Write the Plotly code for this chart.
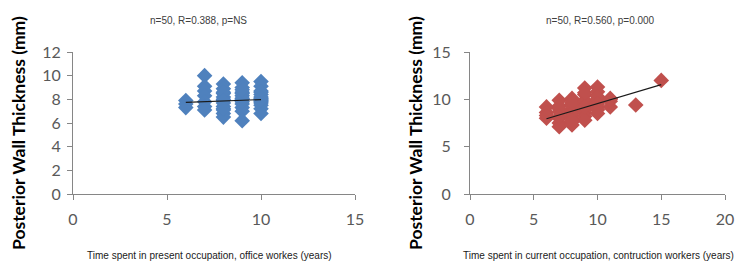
import plotly.graph_objects as go

# ---- Data ----
office_x = [6]*3 + [7]*7 + [8]*13 + [9]*13 + [10]*14
office_y = [7.9, 7.6, 7.3,
            10.0, 9.1, 8.7, 8.3, 7.8, 7.4, 7.1,
            9.3, 8.9, 8.5, 8.2, 8.0, 7.7, 7.4, 7.1, 6.8, 6.5, 8.6, 7.9, 7.2,
            9.4, 9.0, 8.6, 8.3, 8.0, 7.6, 7.3, 7.0, 6.2, 8.5, 7.8, 8.1, 8.8,
            9.5, 9.1, 8.7, 8.4, 8.1, 7.8, 7.5, 7.2, 6.8, 8.6, 8.2, 7.7, 7.9, 8.0]
office_trend_x = [6, 10]
office_trend_y = [7.75, 7.98]

constr_x = [6]*4 + [7]*8 + [8]*11 + [9]*11 + [10]*9 + [11]*4 + [13] + [15] + [8]
constr_y = [9.2, 8.0, 8.6, 8.3,
            9.9, 9.0, 8.7, 8.0, 7.5, 7.1, 9.3, 8.2,
            10.1, 9.5, 8.9, 8.7, 8.3, 8.0, 7.6, 7.3, 9.3, 8.5, 9.7,
            11.2, 10.5, 9.9, 9.5, 8.9, 8.6, 8.2, 7.8, 9.8, 10.7, 9.2,
            11.3, 10.8, 10.3, 9.75, 9.2, 8.5, 10.0, 9.5, 8.9,
            10.1, 9.2, 9.8, 10.0,
            9.4,
            12.0,
            7.8]
constr_trend_x = [6, 15]
constr_trend_y = [7.95, 11.55]

titles = ["n=50, R=0.388, p=NS", "n=50, R=0.560, p=0.000"]
x_titles = ["Time spent in present occupation, office workes (years)",
            "Time spent in current occupation, contruction workers (years)"]
y_title = "Posterior Wall Thickness (mm)"

W, H = 737, 262
fig = go.Figure()

fig.add_trace(go.Scatter(x=office_x, y=office_y, mode="markers",
                         marker=dict(symbol="diamond", size=12, color="#4F81BD"),
                         xaxis="x", yaxis="y", showlegend=False))
fig.add_trace(go.Scatter(x=office_trend_x, y=office_trend_y, mode="lines",
                         line=dict(color="#1a1a1a", width=1.2),
                         xaxis="x", yaxis="y", showlegend=False))
fig.add_trace(go.Scatter(x=constr_x, y=constr_y, mode="markers",
                         marker=dict(symbol="diamond", size=12, color="#C0504D"),
                         xaxis="x2", yaxis="y2", showlegend=False))
fig.add_trace(go.Scatter(x=constr_trend_x, y=constr_trend_y, mode="lines",
                         line=dict(color="#1a1a1a", width=1.2),
                         xaxis="x2", yaxis="y2", showlegend=False))

tickfont = dict(family="Lato", size=16, color="#595959")
axcommon = dict(showgrid=False, zeroline=False, showline=True, linecolor="#868686",
                linewidth=1, ticks="outside", ticklen=5, tickcolor="#868686",
                tickfont=tickfont, fixedrange=True, automargin=False)

ydom = [1 - 194/H, 1 - 52/H]
fig.update_layout(
    template="none",
    width=W, height=H, margin=dict(l=0, r=0, t=0, b=0),
    paper_bgcolor="white", plot_bgcolor="white",
    xaxis=dict(domain=[73/W, 355/W], range=[0, 15], dtick=5, anchor="y",
               ticklabelstandoff=6, **axcommon),
    yaxis=dict(domain=ydom, range=[0, 12], dtick=2, anchor="x",
               ticklabelstandoff=3, **axcommon),
    xaxis2=dict(domain=[470/W, 725/W], range=[0, 20], dtick=5, anchor="y2",
                ticklabelstandoff=6, **axcommon),
    yaxis2=dict(domain=ydom, range=[0, 15], dtick=5, anchor="x2",
                ticklabelstandoff=10, **axcommon),
)

ann = []
for cx, t in zip([198, 600], titles):
    ann.append(dict(x=cx/W, y=1 - 21/H, xref="paper", yref="paper", text=t,
                    showarrow=False, font=dict(family="Liberation Sans", size=10, color="#404040"),
                    xanchor="center", yanchor="middle"))
for cx, t in zip([210, 598], x_titles):
    ann.append(dict(x=cx/W, y=1 - 255/H, xref="paper", yref="paper", text=t,
                    showarrow=False, font=dict(family="Liberation Sans", size=10, color="#1a1a1a"),
                    xanchor="center", yanchor="middle"))
for cx in [18, 415]:
    ann.append(dict(x=cx/W, y=1 - 133/H, xref="paper", yref="paper", text="<b>" + y_title + "</b>",
                    showarrow=False, textangle=-90,
                    font=dict(family="Lato", size=17.5, color="black"),
                    xanchor="center", yanchor="middle"))
fig.update_layout(annotations=ann)

fig.write_html("out.html", config={"displayModeBar": False},
               post_script="document.body.style.margin='0px';document.body.style.padding='0px';")
